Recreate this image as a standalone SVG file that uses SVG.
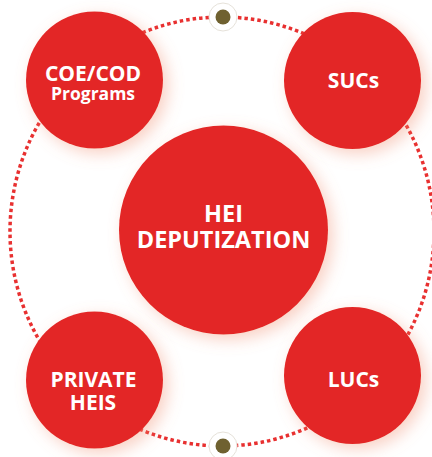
<svg xmlns="http://www.w3.org/2000/svg" width="432" height="457" viewBox="0 0 432 457">
<defs>
<filter id="glow" x="-40%" y="-40%" width="190%" height="190%">
<feDropShadow dx="5" dy="5" stdDeviation="8" flood-color="#f08a6a" flood-opacity="0.4"/>
</filter>
<style>
.node{fill:#e32828;filter:url(#glow)}
.lbl{font-family:"Open Sans","Liberation Sans",sans-serif;font-weight:700;fill:#ffffff;text-anchor:middle}
.ring{fill:none;stroke:#e83030;stroke-width:3.5;stroke-dasharray:3.5 3}
.halo{fill:#ffffff;stroke:#e6e2da;stroke-width:1}
.dot{fill:#6f6130}
</style>
</defs>
<rect width="432" height="457" fill="#ffffff"/>
<g id="connectors">
<ellipse class="ring" cx="222" cy="231.5" rx="212" ry="214.5"/>
<circle class="halo" cx="223" cy="17" r="14"/>
<circle class="dot" cx="223" cy="17" r="7.5"/>
<circle class="halo" cx="223" cy="446" r="14"/>
<circle class="dot" cx="223" cy="446" r="7.5"/>
</g>
<g id="node-center">
<circle class="node" cx="223.5" cy="230" r="104.5"/>
<text class="lbl" x="223.5" y="222" font-size="23.5">HEI</text>
<text class="lbl" x="223.5" y="248" font-size="23.5">DEPUTIZATION</text>
</g>
<g id="node-coe">
<circle class="node" cx="94.5" cy="80" r="68.5"/>
<text class="lbl" x="93" y="81" font-size="21">COE/COD</text>
<text class="lbl" x="93" y="100" font-size="17.5">Programs</text>
</g>
<g id="node-sucs">
<circle class="node" cx="352.5" cy="80.5" r="68.5"/>
<text class="lbl" x="353.5" y="88" font-size="21">SUCs</text>
</g>
<g id="node-private">
<circle class="node" cx="94.5" cy="380" r="68.5"/>
<text class="lbl" x="93.5" y="387" font-size="21">PRIVATE</text>
<text class="lbl" x="93" y="410" font-size="21">HEIS</text>
</g>
<g id="node-lucs">
<circle class="node" cx="352.5" cy="375.5" r="68.5"/>
<text class="lbl" x="353.5" y="387" font-size="21">LUCs</text>
</g>
</svg>
